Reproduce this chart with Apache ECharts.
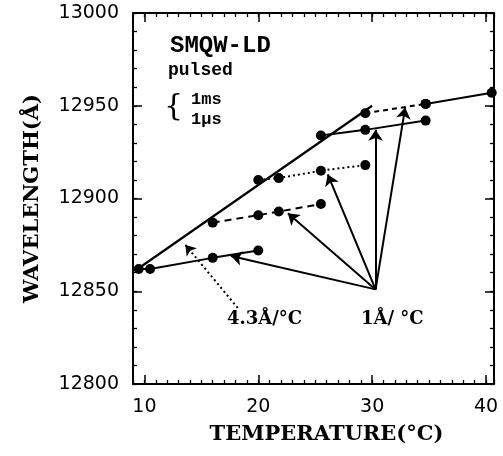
<!DOCTYPE html>
<html>
<head>
<meta charset="utf-8">
<script src="https://cdn.jsdelivr.net/npm/echarts@6/dist/echarts.min.js"></script>
<style>
html,body{margin:0;padding:0;background:#fff;}
#chart{width:503px;height:456px;}
</style>
</head>
<body>
<div id="chart"></div>
<script>
// ---- data ----
const xTickLabels = [10, 20, 30, 40];
const yTickLabels = [12800, 12850, 12900, 12950, 13000];

// lowest solid curve
const tempLow = [9.5, 10.5, 16, 20];
const waveLow = [12862, 12862, 12868, 12872];
// dashed curve
const tempDash = [16, 20, 21.8, 25.5];
const waveDash = [12887, 12891, 12893, 12897];
// dotted curve
const tempDot = [20, 21.8, 25.5, 29.4];
const waveDot = [12910, 12911, 12915, 12918];
// middle solid curve
const tempMid = [25.5, 29.4, 34.7];
const waveMid = [12934, 12937, 12942];
// top curve
const tempTop = [29.4, 34.7, 40.5];
const waveTop = [12946, 12951, 12957];
// 4.3 A/C envelope line
const fitTemp = [9.4, 30];
const fitWave = [12862, 12950];

// arrows: common origin at "1 A/C" label, tips on each curve
const arrowOrigin = [30.3, 12851];
const arrowTipTemp = [17.6, 22.6, 26.1, 30.3, 32.9];
const arrowTipWave = [12869, 12892, 12913, 12937, 12949];
// dotted arrow from "4.3 A/C" label to the envelope
const envArrowFrom = [18.2, 12841];
const envArrowTo = [13.6, 12875];

const zip = (xs, ys) => xs.map((x, i) => [x, ys[i]]);

const chart = echarts.init(document.getElementById('chart'));

const X_MIN = 9, X_MAX = 40.7, Y_MIN = 12800, Y_MAX = 13000;
const black = '#000';
const tickFont = { fontFamily: 'DejaVu Sans', fontSize: 19, color: black, formatter: v => String(v) };
const nameFont = { fontFamily: 'DejaVu Serif', fontWeight: 'bold', fontSize: 21, color: black };

function xAx(pos, major, main) {
  return {
    type: 'value', position: pos, min: X_MIN, max: X_MAX, interval: 1,
    axisLine: { show: !!main, onZero: false, lineStyle: { color: black, width: 2 } },
    axisTick: major
      ? { show: true, inside: true, length: 9, customValues: xTickLabels, lineStyle: { color: black, width: 1.5 } }
      : { show: true, inside: true, length: 4, lineStyle: { color: black, width: 1.3 } },
    axisLabel: (main && pos === 'bottom')
      ? Object.assign({ show: true, customValues: xTickLabels, margin: 14 }, tickFont)
      : { show: false },
    splitLine: { show: false },
    name: (main && pos === 'bottom') ? 'TEMPERATURE(°C)' : '',
    nameLocation: 'middle', nameGap: 40,
    nameTextStyle: Object.assign({ padding: [0, 0, 0, 26] }, nameFont)
  };
}
function yAx(pos, major, main) {
  return {
    type: 'value', position: pos, min: Y_MIN, max: Y_MAX, interval: 10,
    axisLine: { show: !!main, onZero: false, lineStyle: { color: black, width: 2 } },
    axisTick: major
      ? { show: true, inside: true, length: 9, customValues: yTickLabels, lineStyle: { color: black, width: 1.5 } }
      : { show: true, inside: true, length: 4, lineStyle: { color: black, width: 1.3 } },
    axisLabel: (main && pos === 'left')
      ? Object.assign({ show: true, customValues: yTickLabels, margin: 14 }, tickFont)
      : { show: false },
    splitLine: { show: false },
    name: (main && pos === 'left') ? 'WAVELENGTH(Å)' : '',
    nameLocation: 'middle', nameGap: 90,
    nameTextStyle: nameFont
  };
}

function curve(xs, ys, type, data) {
  return {
    type: 'line', xAxisIndex: 0, yAxisIndex: 0,
    data: data || zip(xs, ys),
    symbol: 'circle', symbolSize: 10,
    itemStyle: { color: black },
    lineStyle: { color: black, width: 2, type: type },
    animation: false, z: 5
  };
}

const topPts = zip(tempTop, waveTop);

const arrowData = arrowTipTemp.map((t, i) => ({ coords: [arrowOrigin, [t, arrowTipWave[i]]] }));

const option = {
  backgroundColor: '#fff',
  animation: false,
  grid: { left: 133, right: 9, top: 13, bottom: 72, containLabel: false, outerBoundsMode: 'none' },
  xAxis: [xAx('bottom', false, true), xAx('bottom', true, false), xAx('top', false, true), xAx('top', true, false)],
  yAxis: [yAx('left', false, true), yAx('left', true, false), yAx('right', false, true), yAx('right', true, false)],
  series: [
    // envelope line (no markers)
    {
      type: 'line', data: zip(fitTemp, fitWave), symbol: 'none',
      lineStyle: { color: black, width: 2.2 }, animation: false, z: 4
    },
    curve(tempLow, waveLow, 'solid'),
    curve(tempDash, waveDash, [7, 5]),
    curve(tempDot, waveDot, [2, 3]),
    curve(tempMid, waveMid, 'solid'),
    curve(null, null, [5, 4], topPts.slice(0, 2)),
    curve(null, null, 'solid', topPts.slice(1)),
    {
      type: 'lines', coordinateSystem: 'cartesian2d', polyline: false,
      symbol: ['none', 'arrow'], symbolSize: [0, 11],
      lineStyle: { color: black, width: 2, opacity: 1 },
      data: arrowData, animation: false, z: 6
    },
    {
      type: 'lines', coordinateSystem: 'cartesian2d', polyline: false,
      symbol: ['none', 'arrow'], symbolSize: [0, 10],
      lineStyle: { color: black, width: 2, type: [2, 3], opacity: 1 },
      data: [{ coords: [envArrowFrom, envArrowTo] }], animation: false, z: 6
    }
  ],
  graphic: [
    { type: 'text', left: 170, top: 34, style: { text: 'SMQW-LD', font: 'bold 24px "Liberation Mono"', fill: black } },
    { type: 'text', left: 168, top: 61, style: { text: 'pulsed', font: 'bold 18px "Liberation Mono"', fill: black } },
    { type: 'text', left: 164, top: 92, style: { text: '{', font: '30px "DejaVu Serif"', fill: black } },
    { type: 'text', left: 191, top: 91, style: { text: '1ms', font: 'bold 17px "Liberation Mono"', fill: black } },
    { type: 'text', left: 191, top: 111, style: { text: '1μs', font: 'bold 17px "Liberation Mono"', fill: black } },
    { type: 'text', left: 227, top: 310, style: { text: '4.3Å/°C', font: 'bold 18px "DejaVu Serif"', fill: black } },
    { type: 'text', left: 361, top: 310, style: { text: '1Å/ °C', font: 'bold 18px "DejaVu Serif"', fill: black } }
  ]
};
chart.setOption(option);
</script>
</body>
</html>
